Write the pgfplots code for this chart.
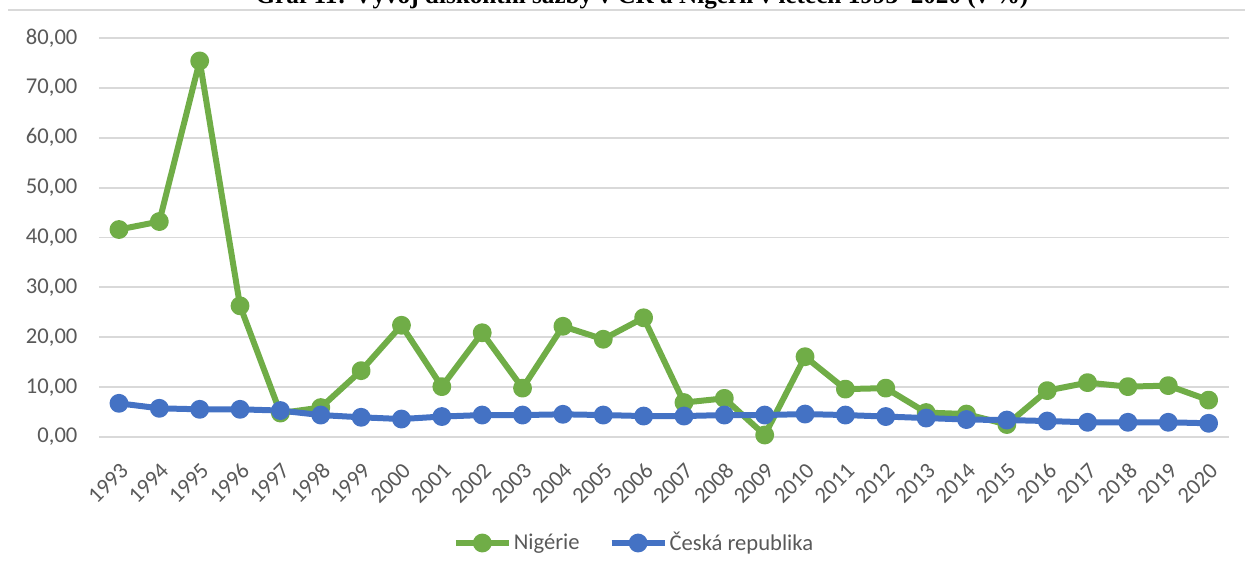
\documentclass[border=0pt]{standalone}
\usepackage{pgfplots}
\pgfplotsset{compat=1.18}
\usepackage{fontspec}
\setmainfont{Carlito}
\newfontfamily\titlefont{Liberation Serif}
\definecolor{ngGreen}{HTML}{70AD47}
\definecolor{czBlue}{HTML}{4472C4}
\definecolor{gridGray}{HTML}{D9D9D9}
\definecolor{txtGray}{HTML}{595959}
\pgfplotstableread{
year ng cz
1993 41.6 6.75
1994 43.2 5.75
1995 75.4 5.55
1996 26.3 5.55
1997 4.8 5.3
1998 5.9 4.4
1999 13.3 3.95
2000 22.4 3.6
2001 10.1 4.1
2002 20.9 4.4
2003 9.8 4.4
2004 22.2 4.55
2005 19.6 4.4
2006 23.9 4.2
2007 6.9 4.2
2008 7.75 4.4
2009 0.4 4.4
2010 16.1 4.6
2011 9.6 4.4
2012 9.8 4.1
2013 4.9 3.8
2014 4.6 3.5
2015 2.5 3.4
2016 9.3 3.2
2017 10.9 2.95
2018 10.1 2.95
2019 10.3 2.95
2020 7.4 2.75
}\datatable
\begin{document}
\begin{tikzpicture}
\begin{axis}[
  at={(49.4pt,70.5pt)}, anchor=south west,
  scale only axis, width=565pt, height=199.5pt,
  xmin=1992.5, xmax=2020.5, ymin=0, ymax=80,
  xtick={1993,...,2020}, ytick={0,10,...,80},
  axis line style={draw=none}, tick style={draw=none},
  ymajorgrids, major grid style={color=gridGray, line width=0.9pt},
  clip=false,
  font=\fontsize{11.3}{13.5}\selectfont,
  ticklabel style={text=txtGray, font=\fontsize{11.3}{13.5}\selectfont},
  /pgf/number format/assume math mode=true,
  yticklabel style={inner sep=0pt, anchor=east, /pgf/number format/.cd, fixed, fixed zerofill, precision=2, use comma},
  yticklabel shift=10.5pt,
  xticklabel style={inner sep=0pt, anchor=north east, rotate=45, /pgf/number format/1000 sep={}},
  xticklabel shift=12pt,
  legend columns=2,
  legend style={draw=none, fill=none, at={(0.4736,-0.2657)}, anchor=center,
    font=\fontsize{11.3}{13.5}\selectfont, text=txtGray,
    /tikz/every even column/.append style={column sep=13.5pt},
    nodes={inner sep=1pt}},
  legend image code/.code={\draw[mark repeat=2,mark phase=2] plot coordinates {(0pt,0pt) (13.25pt,0pt) (26.5pt,0pt)};},
]
\addplot[color=ngGreen, line width=3pt, line join=round, mark=*, mark size=3.2pt, mark options={solid}] table[x=year, y=ng] {\datatable};
\addlegendentry{Nigérie}
\addplot[color=czBlue, line width=3pt, line join=round, mark=*, mark size=3.2pt, mark options={solid}] table[x=year, y=cz] {\datatable};
\addlegendentry{Česká republika}
\end{axis}
\draw[gridGray, line width=0.6pt] (4pt,284pt) -- (622.5pt,284pt);
\node[anchor=base, inner sep=0pt, font=\titlefont\bfseries\fontsize{12.6}{14}\selectfont] at (321pt,287pt) {Graf 11: Vývoj diskontní sazby v ČR a Nigérii v letech 1993–2020 (v \%)};
\pgfresetboundingbox
\path[use as bounding box] (0,0) rectangle (626.5pt,289pt);
\end{tikzpicture}
\end{document}
